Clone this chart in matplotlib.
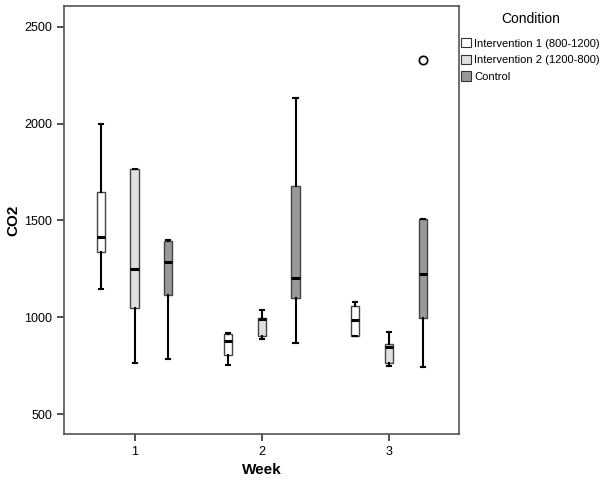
import matplotlib
matplotlib.use("Agg")
import matplotlib.pyplot as plt
import matplotlib.patches as patches

plt.rcParams['font.family'] = ['Liberation Sans', 'DejaVu Sans']

weeks = [1, 2, 3]
conditions = ['Intervention 1 (800-1200)', 'Intervention 2 (1200-800)', 'Control']
colors = ['#ffffff', '#e0e0e0', '#999999']

# whislo, q1, med, q3, whishi per week
int1 = [[1144, 1339, 1417, 1649, 2000],
        [754, 803, 875, 911, 917],
        [902, 902, 986, 1060, 1077]]
int2 = [[764, 1050, 1247, 1764, 1764],
        [888, 905, 991, 996, 1036],
        [747, 766, 847, 861, 924]]
ctrl = [[782, 1113, 1283, 1395, 1400],
        [868, 1101, 1205, 1677, 2134],
        [744, 998, 1222, 1509, 1509]]
outliers_ctrl = [[], [], [2328]]

groups = [int1, int2, ctrl]
fliers = [[[], [], []], [[], [], []], outliers_ctrl]

fig = plt.figure(figsize=(6.02, 4.88), dpi=100)
ax = fig.add_axes([0.1063, 0.1107, 0.6562, 0.877])

offset = 0.265
for k, g in enumerate(groups):
    stats = []
    for i, w in enumerate(weeks):
        lo, q1, med, q3, hi = g[i]
        stats.append(dict(whislo=lo, q1=q1, med=med, q3=q3, whishi=hi,
                          fliers=fliers[k][i]))
    pos = [w + (k - 1) * offset for w in weeks]
    ax.bxp(stats, positions=pos, widths=0.065, patch_artist=True,
           showfliers=True, manage_ticks=False,
           boxprops=dict(facecolor=colors[k], edgecolor='#444444', linewidth=1),
           medianprops=dict(color='black', linewidth=2.2),
           whiskerprops=dict(color='black', linewidth=1.5),
           capprops=dict(color='black', linewidth=1.5),
           capwidths=0.033,
           flierprops=dict(marker='o', markersize=6, markerfacecolor='white',
                           markeredgecolor='black', markeredgewidth=1.2))

ax.set_xlim(0.445, 3.55)
ax.set_ylim(397, 2608)
ax.set_xticks(weeks)
ax.set_yticks([500, 1000, 1500, 2000, 2500])
ax.tick_params(axis='both', direction='out', length=5, width=1.2,
               labelsize=9, color='#333333')
for s in ax.spines.values():
    s.set_color('#555555')
    s.set_linewidth(1.2)
ax.set_xlabel('Week', fontsize=11, fontweight='bold')
ax.set_ylabel('CO2', fontsize=11, fontweight='bold')
ax.xaxis.set_label_coords(0.5, -0.068)
ax.yaxis.set_label_coords(-0.111, 0.5)

handles = [patches.Patch(facecolor=c, edgecolor='#333333', linewidth=0.8)
           for c in colors]
leg = fig.legend(handles, conditions, title='Condition', loc='upper left',
                 bbox_to_anchor=(0.759, 0.985), frameon=False, fontsize=8,
                 title_fontsize=10, handlelength=0.9, handleheight=0.9,
                 handletextpad=0.25, labelspacing=0.55, borderaxespad=0)
leg._legend_box.align = 'center'
leg._legend_box.sep = 9

fig.savefig('out.png', dpi=100)
